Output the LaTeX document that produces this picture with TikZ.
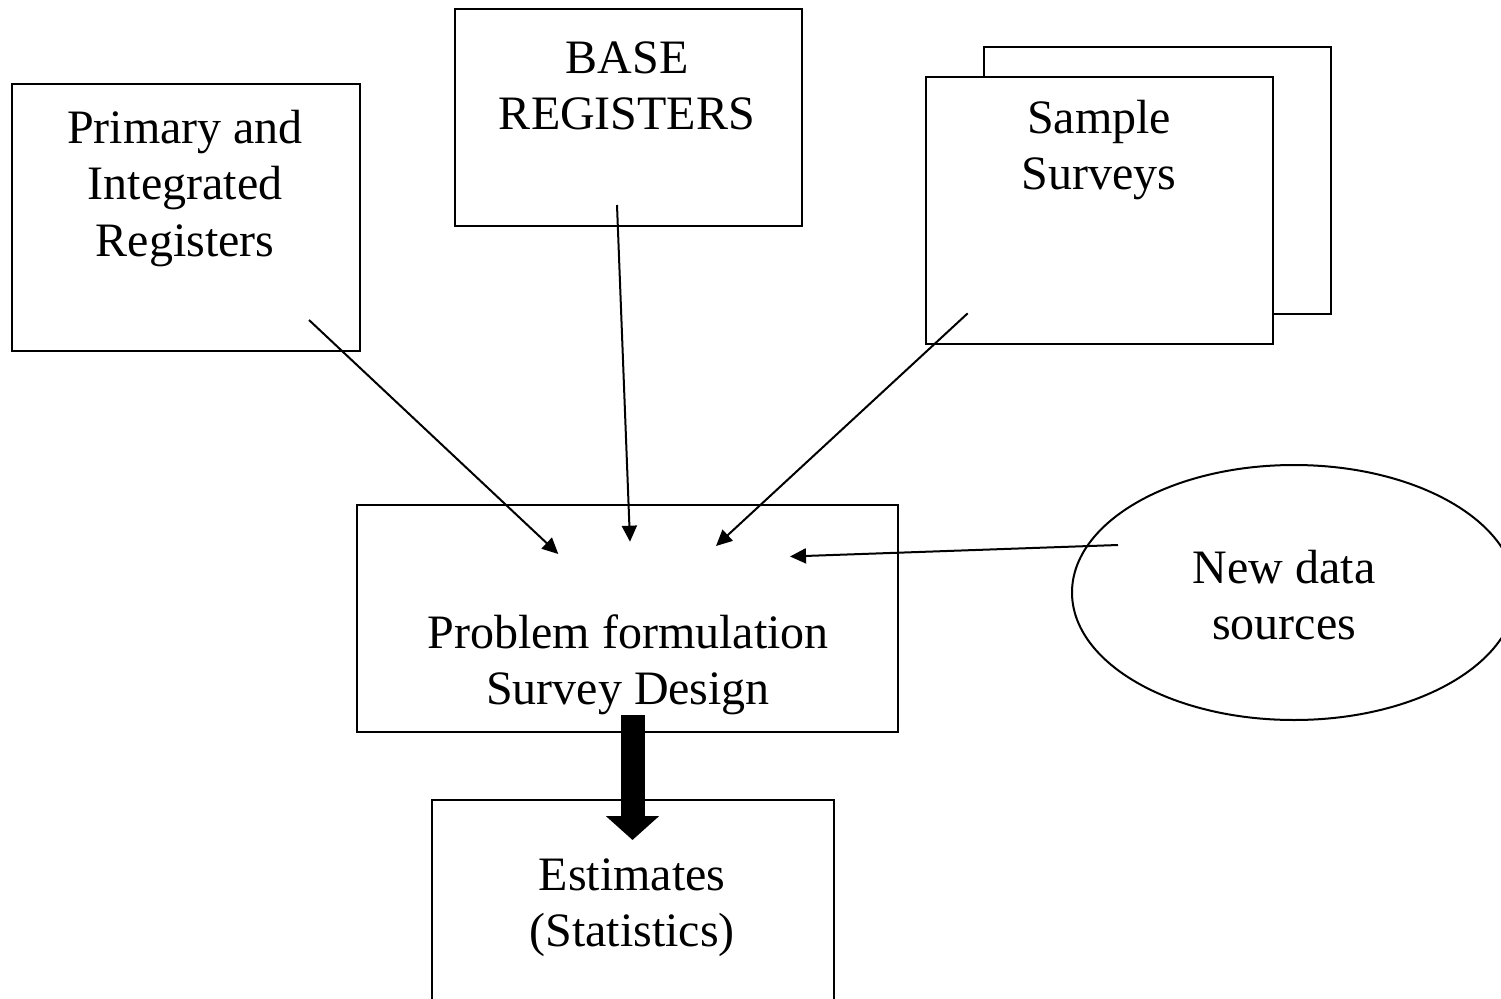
\documentclass[tikz,border=0pt]{standalone}
\usepackage{fontspec}
\setmainfont{Liberation Serif}
\usetikzlibrary{arrows.meta,shapes.geometric}
\tikzset{
  box/.style={draw, line width=2pt, inner sep=0pt, fill=white},
  lbl/.style={align=center, inner sep=0pt, font=\fontsize{48}{56.5}\selectfont},
  conn/.style={line width=2pt, -{Triangle[length=16pt,width=15pt]}},
  bigarrow/.style={line width=24pt, -{Triangle[length=24pt,width=52pt]}},
}
\begin{document}
\begin{tikzpicture}[x=1pt,y=-1pt]
\useasboundingbox (0,0) rectangle (1501,998);
\clip (0,0) rectangle (1501,998);
\fill[white] (0,0) rectangle (1501,998);

% source boxes
\node[box, minimum width=348pt, minimum height=267pt] (prim) at (186,217.5) {};
\node[lbl] (primtxt) at (185,188.5) {\strut Primary and\\\strut Integrated\\\strut Registers};

\node[box, minimum width=347pt, minimum height=217pt] (base) at (628.5,117.5) {};
\node[lbl] (basetxt) at (627,90.3) {\strut BASE\\\strut REGISTERS};

\node[box, minimum width=347pt, minimum height=267pt] (sampback) at (1157.5,180.8) {};
\node[box, minimum width=347pt, minimum height=267pt] (samp) at (1099.7,210) {};
\node[lbl] (samptxt) at (1099,150) {\strut Sample\\\strut Surveys};

% central box
\node[box, minimum width=541pt, minimum height=227pt] (prob) at (627.5,618.5) {};
\node[lbl] (probtxt) at (628,665) {\strut Problem formulation\\\strut Survey Design};

% new data sources
\node[draw, line width=2pt, ellipse, inner sep=0pt, minimum width=444pt, minimum height=255pt] (newd) at (1294,592.5) {};
\node[lbl] (newdtxt) at (1284,600.3) {\strut New data\\\strut sources};

% output box
\node[box, minimum width=402pt, minimum height=240pt] (est) at (632.5,920) {};
\node[lbl] (esttxt) at (632,907) {\strut Estimates\\\strut (Statistics)};

% connector ends
\coordinate (a1s) at (309,320);
\coordinate (a1e) at (558.3,554);
\coordinate (a2s) at (617,205);
\coordinate (a2e) at (630,541.7);
\coordinate (a3s) at (967.7,313.3);
\coordinate (a3e) at (716,546);
\coordinate (a4s) at (1118,545);
\coordinate (a4e) at (790,556.5);
\coordinate (bs) at (632.5,715);
\coordinate (be) at (632.5,840);

\draw[conn] (a1s) -- (a1e);
\draw[conn] (a2s) -- (a2e);
\draw[conn] (a3s) -- (a3e);
\draw[conn] (a4s) -- (a4e);
\draw[bigarrow] (bs) -- (be);
\end{tikzpicture}
\end{document}
